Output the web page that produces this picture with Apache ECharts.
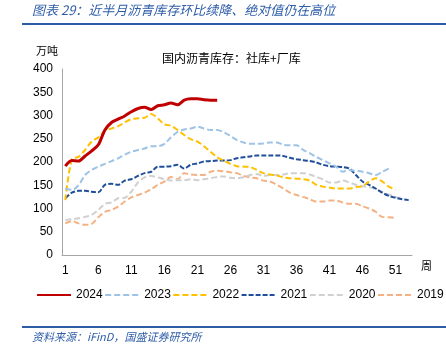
<!DOCTYPE html>
<html><head><meta charset="utf-8">
<script src="https://cdn.jsdelivr.net/npm/echarts@6/dist/echarts.min.js"></script>
<style>html,body{margin:0;padding:0;background:#fff}#c{width:446px;height:357px}</style>
</head><body><div id="c"></div>
<script>
const weeks = Array.from({length:53},(_,i)=>String(i+1));
const s2024 = [191,203,202,213,224,237,269,285,292,299,308,315,318,313,321,323,327,323,333,336,336,334,333,333];
const s2023 = [143,140,150,172,183,190,196,202,208,216,222,226,229,234,234,239,253,265,270,272,276,272,269,269,264,256,247,242,239,239,240,242,242,237,236,236,226,219,211,204,197,190,179,183,181,179,176,172,179,186];
const s2022 = [118,206,211,226,244,253,267,272,277,285,292,294,295,303,294,281,278,269,258,249,244,234,222,210,203,196,191,190,189,183,176,173,171,167,165,164,163,160,151,147,145,143,143,143,146,148,158,165,158,147,141];
const s2021 = [122,134,138,138,136,135,151,153,151,160,163,170,176,179,190,190,191,194,186,194,197,201,202,203,203,204,208,210,212,214,214,214,214,213,209,206,204,202,199,194,191,190,189,186,172,158,151,143,134,127,123,120,118];
const s2020 = [75,77,79,82,86,97,110,113,122,123,136,156,167,170,167,163,160,161,161,163,161,163,165,168,169,166,165,167,172,174,170,172,172,173,176,176,176,173,168,163,156,156,160,156,151,148,146,141,136,130,125,122];
const s2019 = [68,73,68,65,67,81,93,97,104,115,124,129,134,141,151,158,168,163,176,173,172,172,179,181,180,178,176,170,167,165,160,158,151,143,134,129,125,120,115,115,117,117,113,110,110,105,100,93,82,81,80];
const yTicks = [0,50,100,150,200,250,300,350,400];

const chart = echarts.init(document.getElementById('c'));
const font = '"Liberation Sans", Arial, sans-serif';
const cjk = '"Noto Sans CJK SC", sans-serif';
function ln(name, data, color, width, type){
  return {name, type:'line', data, symbol:'none', smooth:0.3, animation:false,
    lineStyle:{color, width, type}, itemStyle:{color}};
}
chart.setOption({
  animation:false,
  grid:{left:62, right:34, top:69, bottom:102},
  xAxis:{type:'category', data:weeks, boundaryGap:true,
    axisLine:{lineStyle:{color:'#A6A6A6', width:1}},
    axisTick:{show:false},
    axisLabel:{interval:4, color:'#000', fontSize:12, fontFamily:font, margin:10}},
  yAxis:{type:'value', min:0, max:400, interval:50,
    axisLine:{show:true, lineStyle:{color:'#A6A6A6', width:1}},
    axisTick:{show:false}, splitLine:{show:false},
    axisLabel:{color:'#000', fontSize:12, fontFamily:font, margin:9,
      formatter:v=>yTicks.includes(v)?String(v):''}},
  legend:{left:36, top:289, width:410, padding:0, itemWidth:34, itemHeight:10, itemGap:1.5,
    itemStyle:{opacity:0},
    textStyle:{color:'#000', fontSize:12, fontFamily:font},
    data:['2024','2023','2022','2021','2020','2019']},
  series:[
    ln('2019', s2019, '#F4B183', 2, [6,3]),
    ln('2020', s2020, '#D0D0D0', 2, [6,3]),
    ln('2021', s2021, '#1F4E9A', 2, [5,2]),
    ln('2022', s2022, '#FFC000', 2, [6,3]),
    ln('2023', s2023, '#9DC3E6', 2, [6,3]),
    ln('2024', s2024, '#C00000', 3, 'solid')
  ],
  graphic:[
    {type:'text', left:32, top:4, style:{text:'图表 29：近半月沥青库存环比续降、绝对值仍在高位', fill:'#2E5DA8', font:'italic 13px '+cjk}},
    {type:'rect', shape:{x:22, y:23, width:424, height:2}, style:{fill:'#2E5DA8'}},
    {type:'text', left:36, top:45, style:{text:'万吨', fill:'#000', font:'11px '+cjk}},
    {type:'text', left:162, top:52, style:{text:'国内沥青库存：社库+厂库', fill:'#000', font:'12px '+cjk}},
    {type:'text', left:421, top:260, style:{text:'周', fill:'#000', font:'11px '+cjk}},
    {type:'rect', shape:{x:22, y:326, width:424, height:2}, style:{fill:'#2E5DA8'}},
    {type:'text', left:32, top:331, style:{text:'资料来源：iFinD，国盛证券研究所', fill:'#2E5DA8', font:'italic 11px '+cjk}}
  ]
});
</script></body></html>
